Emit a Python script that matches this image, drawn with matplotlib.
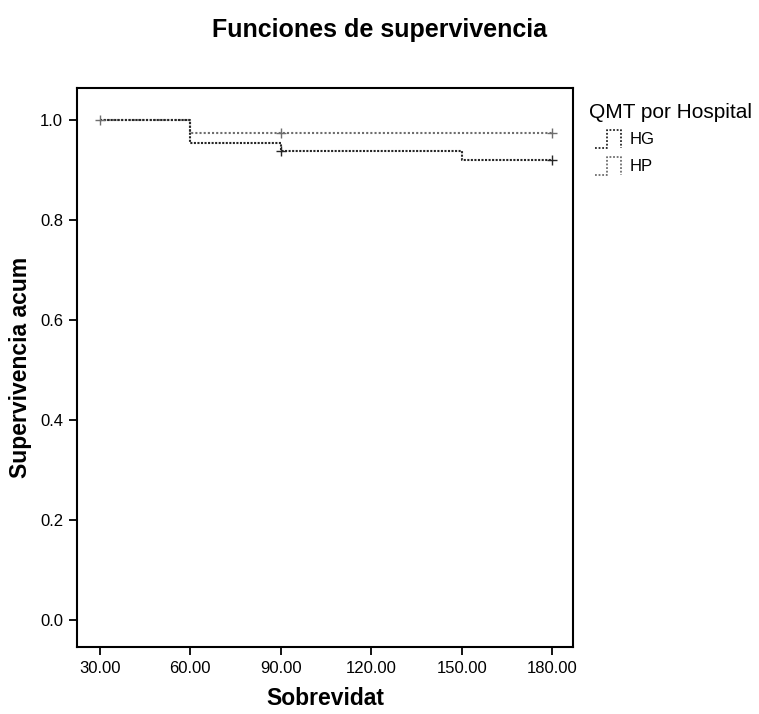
import matplotlib
matplotlib.use("Agg")
import matplotlib.pyplot as plt
from matplotlib.lines import Line2D

plt.rcParams['font.family'] = ['Liberation Sans', 'DejaVu Sans']

# Kaplan-Meier steps
hg_time = [30, 60, 90, 150, 180]
hg_surv = [1.0, 0.953, 0.937, 0.919, 0.919]
hp_time = [30, 60, 180]
hp_surv = [1.0, 0.973, 0.973]

# censored cases
hg_cens_t = [90, 180]
hg_cens_s = [0.937, 0.919]
hp_cens_t = [30, 90, 180]
hp_cens_s = [1.0, 0.973, 0.973]

xticks = [30, 60, 90, 120, 150, 180]
xtick_labels = ['30.00', '60.00', '90.00', '120.00', '150.00', '180.00']
yticks = [0.0, 0.2, 0.4, 0.6, 0.8, 1.0]

hg_color = '#262626'
hp_color = '#6e6e6e'

fig = plt.figure(figsize=(7.59, 7.14), dpi=100)
ax = fig.add_axes([0.1014, 0.0938, 0.654, 0.783])

ax.step(hp_time, hp_surv, where='post', color=hp_color, lw=1.5, ls=(0, (1, 1)))
ax.step(hg_time, hg_surv, where='post', color=hg_color, lw=1.5, ls=(0, (1, 0.7)))
ax.plot(hp_cens_t, hp_cens_s, '+', color=hp_color, ms=7, mew=1)
ax.plot(hg_cens_t, hg_cens_s, '+', color=hg_color, ms=7, mew=1)

ax.set_xlim(22.4, 187)
ax.set_ylim(-0.054, 1.064)
ax.set_xticks(xticks)
ax.set_xticklabels(xtick_labels)
ax.set_yticks(yticks)
ax.set_yticklabels(['%.1f' % v for v in yticks])
ax.tick_params(direction='out', length=6, width=1.3, labelsize=12, pad=4)
for s in ax.spines.values():
    s.set_linewidth(1.5)

ax.set_xlabel('Sobrevidat', fontsize=16.5, fontweight='bold', labelpad=8)
ax.set_ylabel('Supervivencia acum', fontsize=16.5, fontweight='bold', labelpad=6)

fig.text(0.5, 0.958, 'Funciones de supervivencia', ha='center', va='center',
         fontsize=18, fontweight='bold')

# legend with step-shaped glyphs
fig.text(0.776, 0.842, 'QMT por Hospital', fontsize=15, va='center')
for i, (name, col) in enumerate([('HG', hg_color), ('HP', hp_color)]):
    yc = 0.805 - i * 0.038
    xs = [0.784, 0.800, 0.800, 0.818, 0.818]
    ys = [yc - 0.0125, yc - 0.0125, yc + 0.0125, yc + 0.0125, yc - 0.0125]
    fig.add_artist(Line2D(xs, ys, color=col, lw=1.3, ls=(0, (1, 1)),
                          transform=fig.transFigure))
    fig.text(0.830, yc, name, fontsize=12, va='center')

fig.savefig('out.png', dpi=100)
